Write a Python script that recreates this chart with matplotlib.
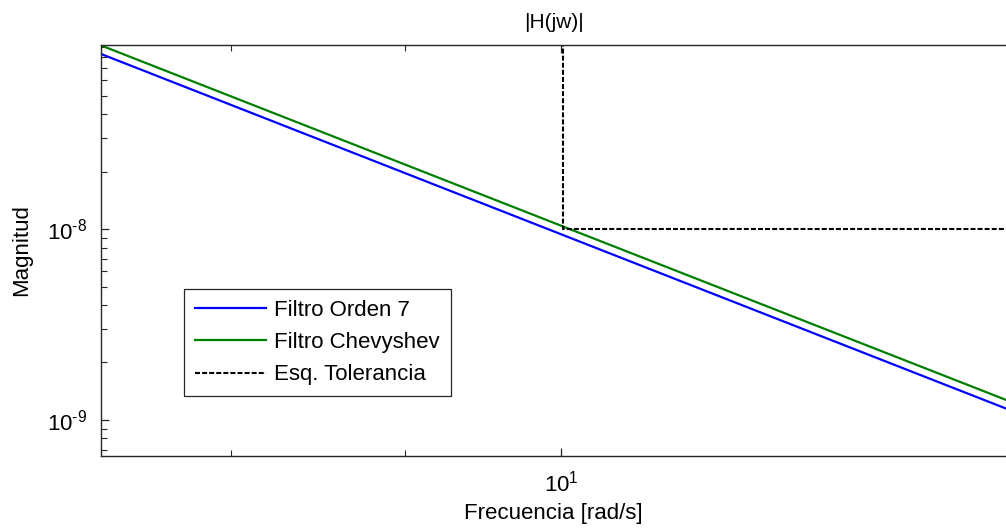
import matplotlib
matplotlib.use('Agg')
import numpy as np
import matplotlib.pyplot as plt
from matplotlib.ticker import LogLocator, NullFormatter, FuncFormatter

# fuente tipo Arial
plt.rcParams['font.family'] = ['Liberation Sans', 'DejaVu Sans']
plt.rcParams['mathtext.fontset'] = 'custom'
plt.rcParams['mathtext.rm'] = 'Liberation Sans'
plt.rcParams['mathtext.it'] = 'Liberation Sans:italic'
plt.rcParams['lines.scale_dashes'] = False

# respuesta en frecuencia (zona de caida, pendiente -7 decadas/decada)
w = [7.3, 10.0, 13.6]
mag_orden7 = [8.50e-8, 9.38e-9, 1.09e-9]
mag_cheby = [9.42e-8, 1.04e-8, 1.21e-9]

# esquema de tolerancia
w_tol = [10.01, 10.01, 100.0]
mag_tol = [1e-6, 1e-8, 1e-8]

FS = 16


def pot10(v, pos):
    # etiqueta 10^n con guion corto, estilo matlab
    e = int(round(np.log10(v)))
    s = str(e).replace('-', r'\text{-}')
    return r'$\mathregular{10^{%s}}$' % s


fig = plt.figure(figsize=(10.06, 5.29), dpi=100)
ax = fig.add_axes([101/1006, 1 - 455.7/529, 905/1006, 410.7/529])

ax.loglog(w, mag_orden7, color='#0000ff', linewidth=1.6, label='Filtro Orden 7')
ax.loglog(w, mag_cheby, color='#008000', linewidth=1.6, label='Filtro Chevyshev')
ax.loglog(w_tol, mag_tol, color='black', linewidth=1.5, dashes=(3.6, 1.5),
          label='Esq. Tolerancia')

ax.set_xlim(7.33, 13.5)
ax.set_ylim(6.5e-10, 9.2e-8)

ax.xaxis.set_minor_locator(LogLocator(base=10, subs=range(2, 10)))
ax.yaxis.set_minor_locator(LogLocator(base=10, subs=range(2, 10)))
ax.xaxis.set_major_formatter(FuncFormatter(pot10))
ax.yaxis.set_major_formatter(FuncFormatter(pot10))
ax.xaxis.set_minor_formatter(NullFormatter())
ax.yaxis.set_minor_formatter(NullFormatter())

ax.spines['right'].set_visible(False)
for s in ('left', 'top', 'bottom'):
    ax.spines[s].set_color('#262626')
    ax.spines[s].set_linewidth(1.0)
ax.tick_params(which='both', direction='in', top=True, right=False,
               color='#262626', labelsize=FS)
ax.tick_params(which='major', length=6, width=0.9)
ax.tick_params(which='minor', length=4, width=0.8)
ax.tick_params(axis='x', which='major', pad=10.5)
ax.tick_params(axis='y', which='major', pad=10)

ax.set_title('|H(jw)|', fontsize=15, pad=12)
ax.set_xlabel('Frecuencia [rad/s]', fontsize=FS, va='center')
ax.xaxis.set_label_coords(0.5, -(513 - 455.7) / 410.7)
ax.set_ylabel('Magnitud', fontsize=FS, va='center')
ax.yaxis.set_label_coords((21.5 - 101) / 905, 0.5)

leg = ax.legend(loc='upper left', bbox_to_anchor=(83/905, (455.7-289)/410.7),
                fontsize=FS, frameon=True, fancybox=False, framealpha=1,
                edgecolor='#262626', handlelength=3.2, handletextpad=0.35,
                borderpad=0.5, labelspacing=0.5, borderaxespad=0)
leg.get_frame().set_linewidth(0.9)

fig.savefig('out.png', dpi=100)
